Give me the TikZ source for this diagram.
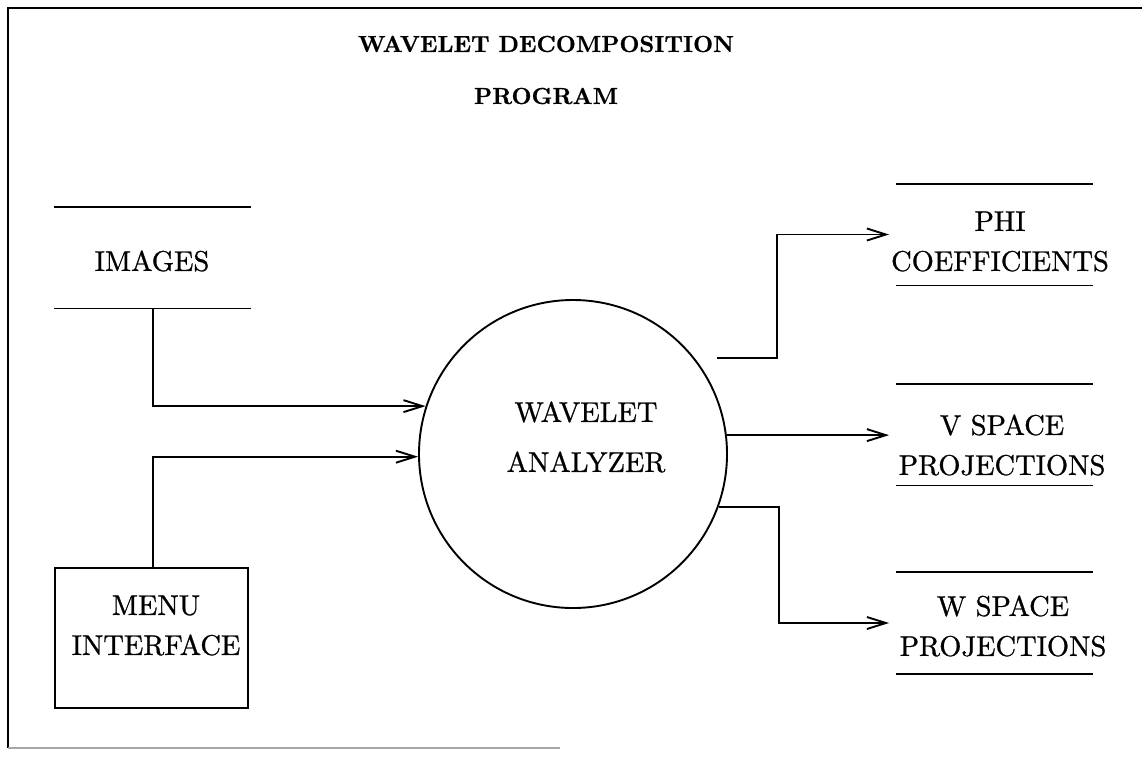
\documentclass[tikz,border=0pt]{standalone}
\usepackage{fontspec}
\newfontfamily\bodyfont{lmroman10-regular.otf}[FakeBold=0.9]
\newfontfamily\headfont{lmroman10-bold.otf}[FakeBold=0.6]
\usetikzlibrary{arrows.meta}
\begin{document}
\begin{tikzpicture}[x=1pt,y=-1pt,
  every node/.style={font=\bodyfont\fontsize{28.5}{40}\selectfont, inner sep=0pt},
  line width=1.9pt,
  arr/.style={-{Straight Barb[length=19pt,width=12pt]}},
  tostore/.style={arr, shorten >=7pt},
  store/.style={minimum width=195pt, minimum height=100pt},
  lbl/.style={align=center},
  procbox/.style={draw, minimum width=193pt, minimum height=140pt},
  bubble/.style={draw, circle, minimum size=308pt},
  titlestyle/.style={align=center, font=\headfont\fontsize{23.2}{52}\selectfont}
]
\useasboundingbox (0,0) rectangle (1142,758);

% frame
\draw (8,748) -- (8,8) -- (1142,8);
\draw[black!35, line width=1.4pt] (8,748) -- (560,748);

% title
\node[titlestyle] (title) at (546,70) {WAVELET DECOMPOSITION\\PROGRAM};

% process bubble
\node[bubble] (ana) at (573,454) {};
\node[lbl, font=\bodyfont\fontsize{28.5}{50}\selectfont] (anat) at (586,437) {WAVELET\\ANALYZER};

% stores
\node[store] (img) at (152.5,257.5) {};
\node[store] (phi) at (994.5,234.5) {};
\node[store] (vsp) at (994.5,434.5) {};
\node[store] (wsp) at (994.5,623) {};
\foreach \s in {img,phi,vsp,wsp}{
  \draw (\s.north west) -- (\s.north east) (\s.south west) -- (\s.south east);
}
\node[lbl] (imgt) at (152,261) {IMAGES};
\node[lbl] (phit) at (1000,241.5) {PHI\\COEFFICIENTS};
\node[lbl] (vspt) at (1002,445) {V SPACE\\PROJECTIONS};
\node[lbl] (wspt) at (1003,626) {W SPACE\\PROJECTIONS};

% menu box
\node[procbox] (menu) at (151.5,638) {};
\node[lbl] (menut) at (156,625.5) {MENU\\INTERFACE};

% connectors in
\draw[arr] (img.south -| 153,0) |- (ana.162.2);
\draw[arr] (menu.north -| 153,0) |- (ana.181.1);

% connectors out
\coordinate (phistart) at (717,358);
\draw[tostore] (phistart) -- ++(60,0) |- (phi.west);
\draw[tostore] (ana.7.8) -- (ana.7.8 -| vsp.west);
\draw[tostore] (ana.-20.5) -- ++(60,0) |- (wsp.west);
\end{tikzpicture}
\end{document}
